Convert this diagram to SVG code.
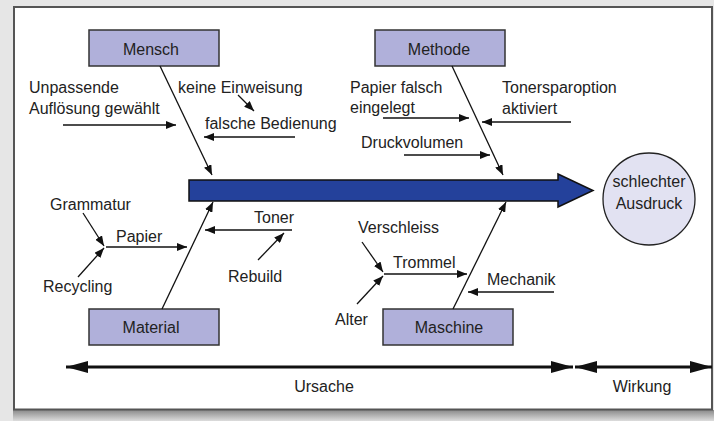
<svg xmlns="http://www.w3.org/2000/svg" width="714" height="421" viewBox="0 0 714 421">
<style>
  text { font-family: "Liberation Sans", Arial, sans-serif; font-size: 16px; fill: #222; }
  .box { fill: #b0b0da; stroke: #333; stroke-width: 1.5; }
  .ln { stroke: #111; stroke-width: 1.3; fill: none; marker-end: url(#ah); }
  .axis { stroke: #111; stroke-width: 3; fill: none; }
  .mid { text-anchor: middle; }
</style>
<defs>
  <marker id="ah" viewBox="0 0 10 8" markerWidth="10" markerHeight="8" refX="10" refY="4" orient="auto" markerUnits="userSpaceOnUse">
    <path d="M0,0 L10,4 L0,8 z" fill="#111"/>
  </marker>
  <marker id="big" viewBox="0 0 22 12" markerWidth="22" markerHeight="12" refX="22" refY="6" orient="auto-start-reverse" markerUnits="userSpaceOnUse">
    <path d="M0,0 L22,6 L0,12 z" fill="#111"/>
  </marker>
  <linearGradient id="shadow" x1="0" y1="0" x2="0" y2="1">
    <stop offset="0" stop-color="#8a8a8a"/>
    <stop offset="1" stop-color="#dcdcdc"/>
  </linearGradient>
</defs>

<rect x="0" y="0" width="714" height="421" fill="#e6e6e6"/>
<rect x="13" y="410" width="701" height="11" fill="url(#shadow)"/>
<rect x="14" y="7" width="698" height="402.5" fill="#fff" stroke="#555" stroke-width="2"/>

<g id="spine">
  <path d="M189,180 H558 V174 L593,190.5 L558,207 V201 H189 Z" fill="#24419b" stroke="#111" stroke-width="1.5"/>
</g>

<g id="effect">
  <circle cx="649" cy="199" r="46" fill="#e2e2f2" stroke="#222" stroke-width="1.3"/>
  <text class="mid" x="649" y="187">schlechter</text>
  <text class="mid" x="649" y="209">Ausdruck</text>
</g>

<g id="mensch">
  <rect class="box" x="89" y="30" width="130" height="36"/>
  <text class="mid" x="151" y="55">Mensch</text>
</g>
<g id="methode">
  <rect class="box" x="375" y="30" width="130" height="36"/>
  <text class="mid" x="439" y="55">Methode</text>
</g>
<g id="material">
  <rect class="box" x="89" y="309" width="130" height="36"/>
  <text class="mid" x="151" y="333">Material</text>
</g>
<g id="maschine">
  <rect class="box" x="383" y="309" width="130" height="36"/>
  <text class="mid" x="449" y="333">Maschine</text>
</g>

<g id="labels">
  <text x="29" y="93">Unpassende</text>
  <text x="29" y="114">Auflösung gewählt</text>
  <text x="178" y="93">keine Einweisung</text>
  <text x="205" y="129">falsche Bedienung</text>
  <text x="350" y="93">Papier falsch</text>
  <text x="350" y="113">eingelegt</text>
  <text x="502" y="93">Tonersparoption</text>
  <text x="502" y="114">aktiviert</text>
  <text x="361" y="148">Druckvolumen</text>
  <text x="50" y="210">Grammatur</text>
  <text x="116" y="242">Papier</text>
  <text x="43" y="292">Recycling</text>
  <text x="254" y="223">Toner</text>
  <text x="228" y="282">Rebuild</text>
  <text x="358" y="233">Verschleiss</text>
  <text x="393" y="268">Trommel</text>
  <text x="335" y="325">Alter</text>
  <text x="487" y="285">Mechanik</text>
  <text class="mid" x="324" y="392">Ursache</text>
  <text class="mid" x="642" y="392">Wirkung</text>
</g>

<g id="connectors">
  <line class="ln" x1="160" y1="66" x2="212" y2="175"/>
  <line class="ln" x1="452" y1="66" x2="503" y2="175"/>
  <line class="ln" x1="162" y1="309" x2="213" y2="202"/>
  <line class="ln" x1="453" y1="309" x2="506" y2="202"/>

  <line class="ln" x1="63" y1="125" x2="176" y2="125"/>
  <line class="ln" x1="238" y1="95" x2="254" y2="111"/>
  <line class="ln" x1="295" y1="137" x2="204" y2="137"/>
  <line class="ln" x1="383" y1="118" x2="469" y2="118"/>
  <line class="ln" x1="571" y1="122" x2="482" y2="122"/>
  <line class="ln" x1="404" y1="155" x2="490" y2="155"/>

  <line class="ln" x1="83" y1="213" x2="104" y2="246"/>
  <line class="ln" x1="78" y1="277" x2="104" y2="248"/>
  <line class="ln" x1="106" y1="247" x2="187" y2="247"/>
  <line class="ln" x1="292" y1="230" x2="205" y2="230"/>
  <line class="ln" x1="258" y1="260" x2="284" y2="233"/>

  <line class="ln" x1="362" y1="242" x2="383" y2="272"/>
  <line class="ln" x1="357" y1="304" x2="383" y2="276"/>
  <line class="ln" x1="384" y1="274" x2="467" y2="274"/>
  <line class="ln" x1="554" y1="292" x2="468" y2="292"/>

  <line class="axis" x1="66" y1="367" x2="573" y2="367" marker-start="url(#big)" marker-end="url(#big)"/>
  <line class="axis" x1="575" y1="367" x2="712" y2="367" marker-start="url(#big)" marker-end="url(#big)"/>
</g>
</svg>
